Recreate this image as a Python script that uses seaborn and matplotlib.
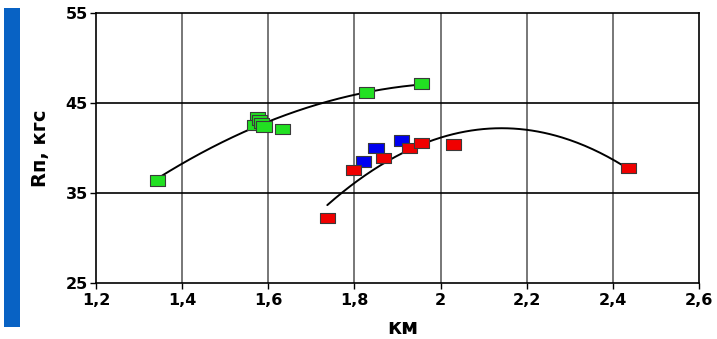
import numpy as np
import pandas as pd
import matplotlib
matplotlib.use("Agg")
import matplotlib.pyplot as plt
import seaborn as sns
from matplotlib.patches import Rectangle

# ---- data ----
green_x = [1.342, 1.575, 1.569, 1.579, 1.584, 1.590, 1.633, 1.829, 1.955]
green_y = [36.4, 43.4, 42.6, 43.1, 42.8, 42.4, 42.1, 46.2, 47.2]
blue_x = [1.822, 1.850, 1.910]
blue_y = [38.5, 40.0, 40.85]
red_x = [1.737, 1.797, 1.868, 1.927, 1.956, 2.031, 2.437]
red_y = [32.2, 37.55, 38.9, 40.0, 40.6, 40.4, 37.8]
x_ticks = [1.2, 1.4, 1.6, 1.8, 2.0, 2.2, 2.4, 2.6]
x_labels = ["1,2", "1,4", "1,6", "1,8", "2", "2,2", "2,4", "2,6"]
y_ticks = [25, 35, 45, 55]
x_title = "км"
y_title = "Rп, кгс"

df = pd.concat([
    pd.DataFrame({"x": green_x, "y": green_y, "g": "green"}),
    pd.DataFrame({"x": blue_x, "y": blue_y, "g": "blue"}),
    pd.DataFrame({"x": red_x, "y": red_y, "g": "red"}),
], ignore_index=True)

palette = {"green": "#22E022", "blue": "#0000F0", "red": "#F00000"}

sns.set_style("white")
plt.rcParams["font.family"] = ["DejaVu Sans"]
plt.rcParams["text.color"] = "black"

fig = plt.figure(figsize=(7.17, 3.39), dpi=100)
ax = fig.add_axes([96 / 717, 1 - 283 / 339, (699 - 96) / 717, (283 - 13.3) / 339])

# grid
for xv in x_ticks[1:-1]:
    ax.axvline(xv, color="#606060", lw=1.2, zorder=0)
for yv in y_ticks[1:-1]:
    ax.axhline(yv, color="black", lw=1.2, zorder=0)

# trend lines (quadratic fits like Excel polynomial trendline)
for xs, ys in [(green_x, green_y), (red_x, red_y)]:
    c = np.polyfit(xs, ys, 2)
    xx = np.linspace(min(xs), max(xs), 200)
    sns.lineplot(x=xx, y=np.polyval(c, xx), color="black", lw=1.4, ax=ax, zorder=2)

rect = [(-1.45, -1), (1.45, -1), (1.45, 1), (-1.45, 1), (-1.45, -1)]
sns.scatterplot(data=df, x="x", y="y", hue="g", palette=palette, marker=rect,
                s=118, edgecolor="#3a3a3a", linewidth=0.8, legend=False, ax=ax, zorder=3)

ax.set_xlim(1.2, 2.6)
ax.set_ylim(25, 55)
ax.set_xticks(x_ticks)
ax.set_xticklabels(x_labels)
ax.set_yticks(y_ticks)
ax.tick_params(axis="both", which="major", length=4, width=1, direction="out",
               labelsize=11.5, colors="black", pad=2)
for lab in ax.get_xticklabels() + ax.get_yticklabels():
    lab.set_fontweight("bold")
ax.tick_params(axis="x", bottom=True, pad=3)
ax.tick_params(axis="y", left=True)
for s in ax.spines.values():
    s.set_color("black")
    s.set_linewidth(1.2)

ax.set_xlabel(x_title, fontsize=15, fontweight="bold", color="black")
ax.set_ylabel(y_title, fontsize=14, fontweight="bold", color="black")
ax.xaxis.set_label_coords(0.509, -0.131)
ax.yaxis.set_label_coords(-0.0763, 0.499)

# blue side bar
fig.patches.append(Rectangle((4 / 717, 1 - 327 / 339), 16 / 717, 319 / 339,
                             transform=fig.transFigure, facecolor="#0862C4",
                             edgecolor="none"))

fig.savefig("out.png", dpi=100)
